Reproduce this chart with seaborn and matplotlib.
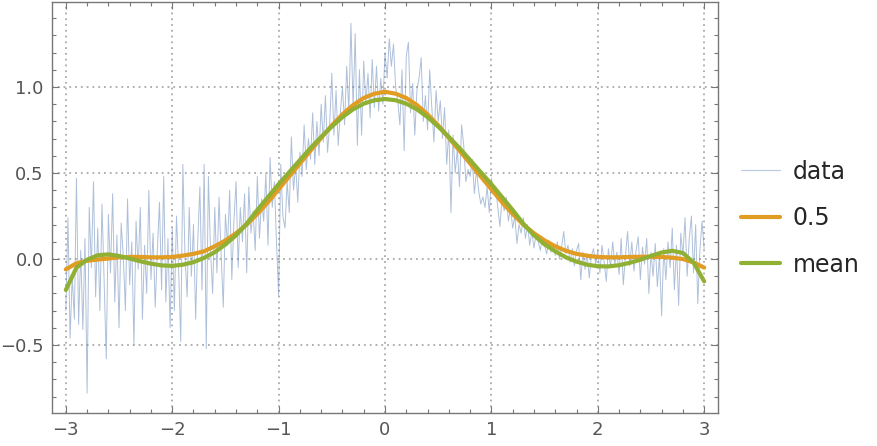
import numpy as np
import pandas as pd
import seaborn as sns
import matplotlib.pyplot as plt
from matplotlib.ticker import MultipleLocator

# noisy sample, x from -3 to 3 in steps of 0.02
data_y = [
    -0.30, 0.24, -0.46, -0.10, -0.35, 0.47, -0.38, 0.05, -0.41, 0.12,
    -0.78, 0.30, -0.05, 0.45, -0.22, 0.18, -0.30, 0.32, -0.12, -0.58,
    0.26, -0.08, 0.38, -0.25, 0.14, -0.40, 0.21, 0.02, -0.30, 0.35,
    -0.15, 0.10, -0.50, 0.22, -0.06, 0.30, -0.35, 0.08, -0.20, 0.40,
    -0.12, 0.15, -0.28, 0.05, 0.33, -0.18, 0.48, -0.25, 0.12, -0.40,
    0.18, -0.30, 0.25, -0.05, -0.48, 0.55, 0.02, -0.22, 0.30, -0.10,
    0.20, -0.35, 0.10, 0.42, -0.18, 0.55, -0.52, 0.48, 0.05, -0.20,
    0.30, -0.08, 0.36, 0.02, -0.28, 0.26, 0.08, 0.40, -0.12, 0.22,
    0.45, -0.05, 0.30, 0.10, 0.38, -0.08, 0.42, 0.15, 0.28, 0.05,
    0.48, 0.12, 0.35, 0.22, 0.50, 0.08, 0.59, 0.30, 0.45, 0.10,
    -0.21, 0.55, 0.25, 0.18, 0.45, 0.27, 0.71, 0.40, 0.55, 0.33,
    0.62, 0.48, 0.78, 0.52, 0.70, 0.58, 0.85, 0.55, 0.80, 0.60,
    0.90, 0.68, 0.95, 0.62, 0.78, 1.08, 0.72, 0.98, 0.66, 0.85,
    1.00, 0.78, 1.12, 0.86, 1.37, 0.88, 1.31, 0.66, 1.10, 0.72,
    1.15, 0.90, 1.08, 0.82, 1.16, 0.88, 1.12, 0.86, 1.05, 0.90,
    1.20, 1.05, 1.28, 1.12, 1.25, 1.00, 0.92, 0.78, 1.10, 0.63,
    1.18, 1.26, 0.85, 1.02, 0.72, 0.98, 1.05, 1.17, 0.80, 0.95,
    0.75, 1.10, 0.88, 0.68, 0.98, 0.80, 0.92, 0.70, 0.88, 0.55,
    0.75, 0.27, 0.72, 0.50, 0.64, 0.42, 0.78, 0.66, 0.45, 0.52,
    0.48, 0.58, 0.38, 0.52, 0.40, 0.32, 0.36, 0.30, 0.42, 0.27,
    0.47, 0.38, 0.42, 0.30, 0.19, 0.35, 0.28, 0.36, 0.22, 0.30,
    0.18, 0.25, 0.09, 0.20, 0.15, 0.24, 0.12, 0.20, 0.08, 0.16,
    0.064, 0.14, 0.10, 0.05, 0.13, 0.08, 0.03, 0.11, 0.04, 0.09,
    0.02, 0.10, 0.00, 0.07, 0.16, 0.03, 0.08, -0.02, 0.06, -0.04,
    0.05, 0.09, -0.12, 0.04, -0.06, 0.03, -0.11, 0.02, 0.06, -0.03,
    0.05, -0.08, 0.08, -0.02, -0.13, 0.06, -0.05, 0.10, -0.03, 0.04,
    -0.09, 0.12, -0.15, 0.02, 0.16, -0.04, 0.10, -0.07, 0.05, 0.13,
    -0.12, 0.07, -0.03, 0.12, -0.20, 0.04, -0.10, 0.09, -0.16, 0.02,
    -0.33, 0.06, -0.12, 0.10, -0.05, 0.18, -0.18, 0.08, -0.27, 0.15,
    0.02, 0.24, -0.10, 0.12, 0.25, -0.08, 0.20, -0.26, 0.05, 0.22,
    0.06,
]
data_x = np.linspace(-3, 3, len(data_y))

# fitted curves, x from -3 to 3 in steps of 0.1
median_fit = [
    -0.060, -0.025, -0.010, -0.003, 0.003, 0.010, 0.012, 0.012, 0.010, 0.010,
    0.012, 0.020, 0.030, 0.045, 0.074, 0.108, 0.150, 0.200, 0.262, 0.330,
    0.405, 0.480, 0.555, 0.630, 0.704, 0.777, 0.841, 0.895, 0.936, 0.961,
    0.972, 0.961, 0.936, 0.895, 0.841, 0.777, 0.704, 0.630, 0.555, 0.480,
    0.405, 0.330, 0.262, 0.200, 0.150, 0.108, 0.074, 0.048, 0.030, 0.019,
    0.012, 0.010, 0.010, 0.012, 0.013, 0.013, 0.012, 0.008, 0.000, -0.020,
    -0.050,
]
mean_fit = [
    -0.180, -0.050, -0.004, 0.022, 0.027, 0.018, 0.003, -0.013, -0.027, -0.037,
    -0.040, -0.033, -0.018, 0.007, 0.040, 0.085, 0.138, 0.205, 0.285, 0.360,
    0.435, 0.505, 0.575, 0.645, 0.710, 0.770, 0.825, 0.870, 0.903, 0.923,
    0.930, 0.923, 0.903, 0.870, 0.825, 0.770, 0.710, 0.645, 0.575, 0.505,
    0.435, 0.360, 0.285, 0.205, 0.138, 0.085, 0.045, 0.010, -0.015, -0.033,
    -0.042, -0.043, -0.036, -0.022, -0.004, 0.018, 0.038, 0.048, 0.035, -0.020,
    -0.130,
]
fit_x = np.linspace(-3, 3, len(mean_fit))

df_data = pd.DataFrame({"x": data_x, "y": data_y})
df_fit = pd.DataFrame({"x": fit_x, "median": median_fit, "mean": mean_fit})

sns.set_style("ticks")
plt.rcParams['font.family'] = ['DejaVu Sans']

fig = plt.figure(figsize=(8.78, 4.46), dpi=100)
ax = fig.add_axes([52 / 878, 33 / 446, 666 / 878, 411 / 446])

sns.lineplot(data=df_data, x="x", y="y", ax=ax, color="#5e81b5", alpha=0.5,
             lw=0.7, label="data", sort=False, estimator=None)
sns.lineplot(data=df_fit, x="x", y="median", ax=ax, color="#e19c24", lw=3,
             label="0.5", estimator=None)
sns.lineplot(data=df_fit, x="x", y="mean", ax=ax, color="#8fb032", lw=3,
             label="mean", estimator=None)

ax.set_xlim(-3.13, 3.13)
ax.set_ylim(-0.895, 1.494)
ax.set_xlabel("")
ax.set_ylabel("")
ax.set_xticks([-3, -2, -1, 0, 1, 2, 3])
ax.set_yticks([-0.5, 0.0, 0.5, 1.0])
ax.xaxis.set_minor_locator(MultipleLocator(0.2))
ax.yaxis.set_minor_locator(MultipleLocator(0.1))
ax.tick_params(which="both", direction="in", top=True, right=True,
               color="#777777", width=0.8)
ax.tick_params(which="major", length=5, labelsize=13, labelcolor="#555555", pad=6)
ax.tick_params(which="minor", length=3)
for s in ax.spines.values():
    s.set_color("#777777")
    s.set_linewidth(1)
ax.grid(True, which="major", color="#aaaaaa", linestyle=(0, (1, 2.2)), lw=1.3)
ax.set_axisbelow(True)

leg = ax.legend(loc="center left", bbox_to_anchor=(1.02, 0.474), frameon=False,
                fontsize=17, handlelength=1.65, handletextpad=0.55, labelspacing=0.95,
                borderaxespad=0)
for h in leg.get_lines()[:1]:
    h.set_linewidth(0.9)
    h.set_alpha(0.4)

fig.savefig("out.png", dpi=100)
